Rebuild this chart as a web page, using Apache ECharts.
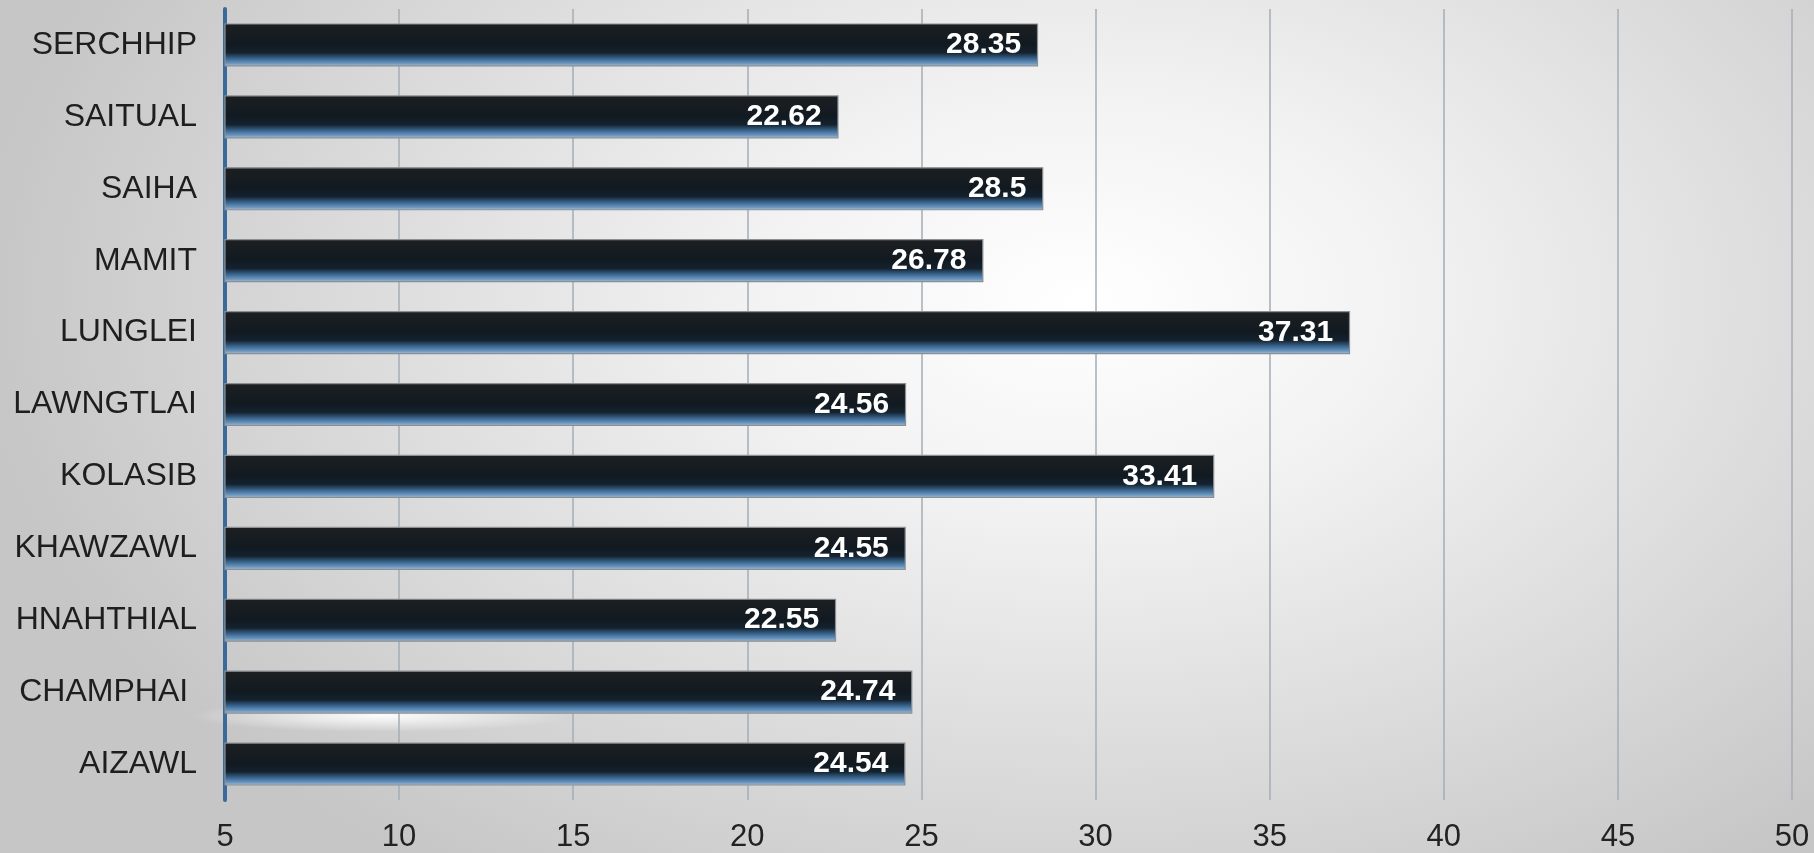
<!DOCTYPE html>
<html>
<head>
<meta charset="utf-8">
<script src="https://cdn.jsdelivr.net/npm/echarts@6/dist/echarts.min.js"></script>
<style>
html,body{margin:0;padding:0;width:1814px;height:853px;overflow:hidden;}
body{background:
 radial-gradient(ellipse 190px 16px at 380px 716px, rgba(255,255,255,0.95), rgba(255,255,255,0) 100%),
 radial-gradient(ellipse 1100px 700px at 1080px 300px, #ffffff 0%, #f2f2f2 30%, #dcdcdc 65%, #c6c6c6 100%);}
#chart{width:1814px;height:853px;}
</style>
</head>
<body>
<div id="chart"></div>
<script>
const categories = ['AIZAWL','CHAMPHAI ','HNAHTHIAL','KHAWZAWL','KOLASIB','LAWNGTLAI','LUNGLEI','MAMIT','SAIHA','SAITUAL','SERCHHIP'];
const values = [24.54, 24.74, 22.55, 24.55, 33.41, 24.56, 37.31, 26.78, 28.5, 22.62, 28.35];
const xMin = 5, xMax = 50, xStep = 5;

const chart = echarts.init(document.getElementById('chart'), null, {renderer:'canvas'});
chart.setOption({
  backgroundColor: 'transparent',
  animation: false,
  grid: {left: 225, right: 22, top: 9, bottom: 51, containLabel: false},
  xAxis: {
    type: 'value', min: xMin, max: xMax, interval: xStep,
    axisLine: {show: false}, axisTick: {show: false},
    axisLabel: {color: '#222', fontSize: 31, fontFamily: 'Liberation Sans, Arial, sans-serif', margin: 22},
    splitLine: {show: true, lineStyle: {color: '#a4acb6', width: 1.5}}
  },
  yAxis: {
    type: 'category', data: categories,
    axisLine: {show: true, lineStyle: {color: '#3a6a9c', width: 4}},
    axisTick: {show: false},
    axisLabel: {color: '#1e1e1e', fontSize: 32, fontFamily: 'Liberation Sans, Arial, sans-serif', margin: 28},
    splitLine: {show: false}
  },
  series: [{
    type: 'bar', data: values, barWidth: '60%',
    itemStyle: {
      color: new echarts.graphic.LinearGradient(0, 0, 0, 1, [
        {offset: 0, color: '#1d1f21'},
        {offset: 0.5, color: '#111a21'},
        {offset: 0.68, color: '#14222f'},
        {offset: 0.82, color: '#3a6690'},
        {offset: 0.93, color: '#6d97bf'},
        {offset: 1, color: '#aec8df'}
      ]),
      borderColor: '#8a8f94', borderWidth: 1.2
    },
    label: {
      show: true, position: 'insideRight', distance: 17,
      color: '#ffffff', fontWeight: 'bold', fontSize: 30,
      fontFamily: 'Liberation Sans, Arial, sans-serif'
    }
  }]
});
</script>
</body>
</html>
